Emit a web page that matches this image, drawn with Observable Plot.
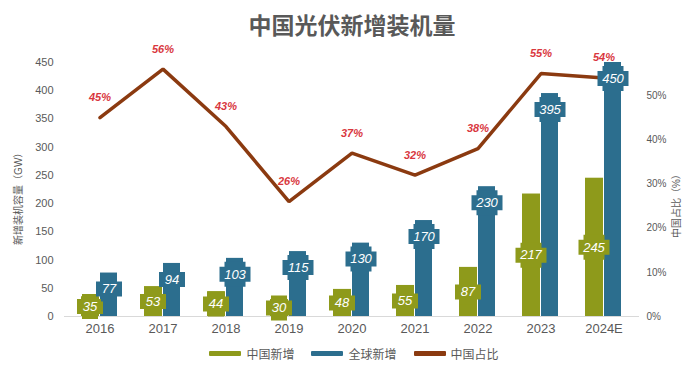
<!DOCTYPE html>
<html>
<head>
<meta charset="utf-8">
<script src="https://cdn.jsdelivr.net/npm/d3@7"></script>
<script src="https://cdn.jsdelivr.net/npm/@observablehq/plot@0.6"></script>
<style>
  body { margin: 0; background: #fff; font-family: "Liberation Sans", "Noto Sans CJK SC", sans-serif; }
  #wrap { width: 696px; height: 370px; position: relative; }
  #title { height: 45px; line-height: 48px; text-align: center; font-size: 23px; font-weight: bold; color: #595959; font-family: "Noto Sans CJK SC", sans-serif; padding-left: 8px; }
  #legend { display: flex; justify-content: center; align-items: center; gap: 17px; height: 30px; font-size: 12px; color: #595959; font-family: "Noto Sans CJK SC", sans-serif; padding-left: 12px; margin-top: -2px; }
  .item { display: flex; align-items: center; gap: 5px; }
  .sw { width: 32px; height: 5px; border-radius: 1px; }
  svg text { font-family: "Liberation Sans", "Noto Sans CJK SC", sans-serif; }
</style>
</head>
<body>
<div id="wrap">
  <div id="title">中国光伏新增装机量</div>
  <div id="chart"></div>
  <div id="legend"></div>
</div>
<script>
const years = ["2016","2017","2018","2019","2020","2021","2022","2023","2024E"];
const chinaAdded = [35, 53, 44, 30, 48, 55, 87, 217, 245];
const globalAdded = [77, 94, 103, 115, 130, 170, 230, 395, 450];
const chinaShare = [0.45, 0.56, 0.43, 0.26, 0.37, 0.32, 0.38, 0.55, 0.54];
const leftTicks = [0, 50, 100, 150, 200, 250, 300, 350, 400, 450];
const rightTicks = [0, 0.1, 0.2, 0.3, 0.4, 0.5];
const seriesNames = ["中国新增", "全球新增", "中国占比"];
const leftTitle = "新增装机容量（GW）";
const rightTitle = "中国占比（%）";
const colors = ["#8E9A1B", "#2C6E8E", "#8B3A10"];
const labelRed = "#D9373E";
const grey = "#595959";

const rows = years.map((y, i) => ({year: y, china: chinaAdded[i], global: globalAdded[i], share: chinaShare[i]}));
const K = 450 / 0.575; // right axis to left axis mapping

function plusBox(w) {
  const a = w / 2, b = a - 5, h1 = 7.5, h2 = 12.5;
  return {
    draw(ctx) {
      ctx.moveTo(-a, -h1); ctx.lineTo(-b, -h1); ctx.lineTo(-b, -h2); ctx.lineTo(b, -h2);
      ctx.lineTo(b, -h1); ctx.lineTo(a, -h1); ctx.lineTo(a, h1); ctx.lineTo(b, h1);
      ctx.lineTo(b, h2); ctx.lineTo(-b, h2); ctx.lineTo(-b, h1); ctx.lineTo(-a, h1);
      ctx.closePath();
    }
  };
}
const box2 = plusBox(26), box3 = plusBox(31);
const digits = v => String(v).length;

const chart = Plot.plot({
  width: 696,
  height: 295,
  marginLeft: 64,
  marginRight: 57,
  marginTop: 17,
  marginBottom: 24,
  style: {overflow: "visible"},
  x: {type: "band", domain: years, padding: 0, axis: null},
  y: {domain: [0, 450], axis: null},
  marks: [
    Plot.ruleY([0], {stroke: "#d9d9d9", strokeWidth: 1.2}),
    Plot.barY(rows, {x: "year", y: "china", fill: colors[0], insetLeft: 13, insetRight: 32}),
    Plot.barY(rows, {x: "year", y: "global", fill: colors[1], insetLeft: 32, insetRight: 14}),
    Plot.line(rows, {x: "year", y: d => d.share * K, stroke: colors[2], strokeWidth: 3.5, strokeLinejoin: "miter"}),
    Plot.dot(rows.filter(d => digits(d.china) === 2), {x: "year", y: d => d.china / 2, dx: -10, symbol: box2, fill: colors[0], stroke: null, r: 5}),
    Plot.dot(rows.filter(d => digits(d.china) === 3), {x: "year", y: d => d.china / 2, dx: -10, symbol: box3, fill: colors[0], stroke: null, r: 5}),
    Plot.text(rows, {x: "year", y: d => d.china / 2, dx: -10, text: d => String(d.china), fill: "white", fontSize: 13, fontStyle: "italic"}),
    Plot.dot(rows.filter(d => digits(d.global) === 2), {x: "year", y: "global", dx: 9, dy: 16, symbol: box2, fill: colors[1], stroke: null, r: 5}),
    Plot.dot(rows.filter(d => digits(d.global) === 3), {x: "year", y: "global", dx: 9, dy: 16, symbol: box3, fill: colors[1], stroke: null, r: 5}),
    Plot.text(rows, {x: "year", y: "global", dx: 9, dy: 16, text: d => String(d.global), fill: "white", fontSize: 13, fontStyle: "italic"}),
    Plot.text(rows, {x: "year", y: d => d.share * K, dy: -20, text: d => Math.round(d.share * 100) + "%", fill: labelRed, fontSize: 11, fontStyle: "italic", fontWeight: "bold"}),
    Plot.axisX({tickSize: 0, tickPadding: 7, fontSize: 13, color: grey, label: null, fill: grey}),
    Plot.text(leftTicks, {y: d => d, frameAnchor: "left", dx: -11, textAnchor: "end", text: d => String(d), fill: grey, fontSize: 11}),
    Plot.text(rightTicks, {y: d => d * K, frameAnchor: "right", dx: 7, textAnchor: "start", text: d => Math.round(d * 100) + "%", fill: grey, fontSize: 10}),
    Plot.text([leftTitle], {y: () => 213, frameAnchor: "left", textAnchor: "middle", dx: -46, rotate: -90, text: d => d, fill: grey, fontSize: 10, fontFamily: "Noto Sans CJK SC"}),
    Plot.text([rightTitle], {y: () => 200, frameAnchor: "right", textAnchor: "middle", dx: 37, rotate: -90, text: d => d, fill: grey, fontSize: 10, fontFamily: "Noto Sans CJK SC"})
  ]
});
document.getElementById("chart").appendChild(chart);

const legend = document.getElementById("legend");
seriesNames.forEach((name, i) => {
  const item = document.createElement("div");
  item.className = "item";
  item.innerHTML = `<div class="sw" style="background:${colors[i]}"></div><span>${name}</span>`;
  legend.appendChild(item);
});
</script>
</body>
</html>
